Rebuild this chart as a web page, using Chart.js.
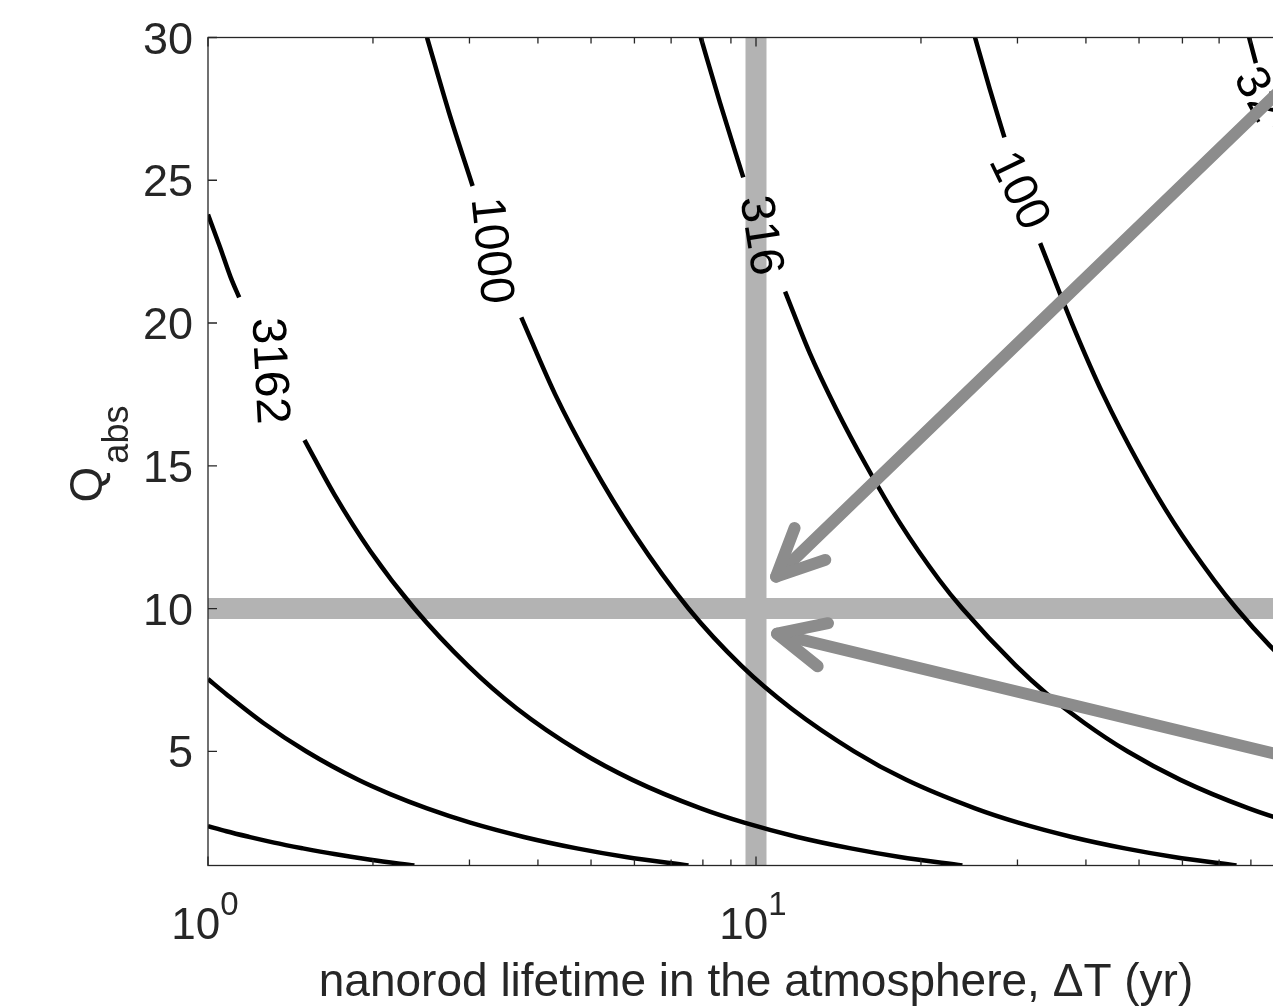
<!DOCTYPE html>
<html>
<head>
<meta charset="utf-8">
<script src="https://cdn.jsdelivr.net/npm/chart.js@4.4.1/dist/chart.umd.min.js"></script>
<style>
  html, body { margin: 0; padding: 0; overflow: hidden; background: #fff; }
  canvas { display: block; }
</style>
</head>
<body>
<canvas id="contour" width="1320" height="1007"></canvas>
<script>
// axis ticks
const xTickValues = [1, 2, 3, 4, 5, 6, 7, 8, 9, 10, 20, 30, 40, 50, 60, 70, 80, 90, 100] ;
const xLabelValues = [1, 10] ;
const yTickValues = [5, 10, 15, 20, 25, 30] ;

// contour lines: lifetime dT (yr) and Q_abs
// a null Q is where the line is broken for its label
const c31623T = [1, 1.08, 1.19, 1.32, 1.49, 1.70, 1.98, 2.38] ;
const c31623Q = [2.38, 2.2, 2.0, 1.8, 1.6, 1.4, 1.2, 1.0] ;

const c10000T = [1, 1.08, 1.26, 1.51, 1.88, 2.15, 2.51, 3.01, 3.77, 4.71, 5.79, 7.53] ;
const c10000Q = [7.53, 7, 6, 5, 4, 3.5, 3, 2.5, 2, 1.6, 1.3, 1] ;

const c3162T = [1, 1.05, 1.10, 1.14, 1.30, 1.50, 1.70, 1.98, 2.38, 2.98, 3.66, 4.76, 5.95, 7.93, 9.52, 11.9, 14.9, 18.3, 23.8] ;
const c3162Q = [23.8, 22.7, 21.6, 20.9, null, 15.9, 14, 12, 10, 8, 6.5, 5, 4, 3, 2.5, 2, 1.6, 1.3, 1] ;

const c1000T = [2.51, 2.75, 3.04, 3.30, 3.73, 4.3, 5.0, 6.0, 7.53, 9.4, 11.6, 15.1, 18.8, 25.1, 30.1, 37.7, 47.1, 57.9, 75.3] ;
const c1000Q = [30, 27.4, 24.8, null, 20.2, 17.5, 15.1, 12.6, 10, 8, 6.5, 5, 4, 3, 2.5, 2, 1.6, 1.3, 1] ;

const c316T = [7.93, 8.6, 9.48, 10.2, 11.3, 12.5, 14.0, 15.9, 18.3, 21.6, 23.8, 29.8, 34.0, 39.7, 47.6, 59.5, 79.3, 95.2, 119] ;
const c316Q = [30, 27.7, 25.1, null, 21.1, 19, 17, 15, 13, 11, 10, 8, 7, 6, 5, 4, 3, 2.5, 2] ;

const c100T = [25.1, 26.7, 28.4, 30.3, 33.0, 37.7, 43.0, 50.2, 57.9, 68.5, 75.3, 86.6, 100, 110] ;
const c100Q = [30, 28.2, 26.5, null, 22.8, 20, 17.5, 15, 13, 11, 10, 8.7, 7.53, 6.85] ;

const c32T = [79.4, 81.7, 84, 88.5, 100, 110] ;
const c32Q = [30, 29.1, null, 26.9, 23.8, 21.6] ;

// inline contour labels (text and where it sits on the line)
const labelText = ['3162', '1000', '316', '100', '32'] ;
const labelT = [1.30, 3.30, 10.24, 30.3, 82.8] ;
const labelQ = [18.33, 22.54, 23.07, 24.65, 28.02] ;

// grey guide lines at dT = 10 yr and Q_abs = 10
const guideT = 10 ;
const guideQ = 10 ;

// grey arrows pointing at the crossing
const arrowTipT = [10.75, 10.75] ;
const arrowTipQ = [11.02, 9.15] ;
const arrowTailT = [100, 100] ;
const arrowTailQ = [28.96, 4.67] ;

const FONT = "'Liberation Sans', Arial, Helvetica, sans-serif" ;
const axisColor = '#262626' ;
const guideColor = '#b3b3b3' ;
const arrowColor = '#8c8c8c' ;
const labelAngle = [87, 84, 81, 64, 62] ; // degrees, as matlab placed them

function toPoints(T, Q) {
    return T.map((t, i) => ({ x: t, y: Q[i] })) ;
}

const curves = [
    [c31623T, c31623Q], [c10000T, c10000Q], [c3162T, c3162Q],
    [c1000T, c1000Q], [c316T, c316Q], [c100T, c100Q], [c32T, c32Q]
] ;

const contourSets = curves.map(([T, Q]) => ({
    data: toPoints(T, Q),
    borderColor: '#000',
    borderWidth: 4.5,
    pointRadius: 0,
    cubicInterpolationMode: 'monotone',
    spanGaps: false,
    clip: 0,
    order: 1
})) ;

const guideSets = [{
    data: [{ x: 1, y: guideQ }, { x: 100, y: guideQ }],
    borderColor: guideColor, borderWidth: 21, borderCapStyle: 'butt', pointRadius: 0, order: 2
}, {
    data: [{ x: guideT, y: 1 }, { x: guideT, y: 30 }],
    borderColor: guideColor, borderWidth: 21, borderCapStyle: 'butt', pointRadius: 0, order: 2
}] ;

const matlabAxes = {
    id: 'matlabAxes',
    afterDatasetsDraw(chart) {
        const { ctx, scales: { x, y } } = chart ;

        // contour labels
        ctx.save() ;
        ctx.fillStyle = '#000' ;
        ctx.font = `48px ${FONT}` ;
        ctx.textAlign = 'center' ;
        ctx.textBaseline = 'middle' ;
        labelText.forEach((txt, i) => {
            ctx.save() ;
            ctx.translate(x.getPixelForValue(labelT[i]), y.getPixelForValue(labelQ[i])) ;
            ctx.rotate(labelAngle[i] * Math.PI / 180) ;
            ctx.fillText(txt, 0, 2) ;
            ctx.restore() ;
        }) ;
        ctx.restore() ;

        // arrows
        ctx.save() ;
        ctx.strokeStyle = arrowColor ;
        ctx.lineWidth = 12 ;
        ctx.lineCap = 'round' ;
        ctx.lineJoin = 'round' ;
        arrowTipT.forEach((_, i) => {
            const tx = x.getPixelForValue(arrowTipT[i]), ty = y.getPixelForValue(arrowTipQ[i]) ;
            const sx = x.getPixelForValue(arrowTailT[i]), sy = y.getPixelForValue(arrowTailQ[i]) ;
            const ang = Math.atan2(sy - ty, sx - tx) ;
            const hx = tx + 4 * Math.cos(ang), hy = ty + 4 * Math.sin(ang) ;
            ctx.beginPath() ;
            ctx.moveTo(sx, sy) ;
            ctx.lineTo(hx, hy) ;
            ctx.stroke() ;
            ctx.beginPath() ;
            ctx.moveTo(hx + 52 * Math.cos(ang - 0.44), hy + 52 * Math.sin(ang - 0.44)) ;
            ctx.lineTo(hx, hy) ;
            ctx.lineTo(hx + 52 * Math.cos(ang + 0.44), hy + 52 * Math.sin(ang + 0.44)) ;
            ctx.stroke() ;
        }) ;
        ctx.restore() ;
    },
    afterDraw(chart) {
        const { ctx, chartArea: { left, right, top, bottom }, scales: { x, y } } = chart ;
        ctx.save() ;
        ctx.strokeStyle = axisColor ;
        ctx.fillStyle = axisColor ;
        ctx.lineWidth = 1.3 ;
        ctx.strokeRect(left, top, right - left, bottom - top) ;

        // inward ticks, mirrored on the opposite side
        ctx.beginPath() ;
        x.ticks.forEach(t => {
            const px = x.getPixelForValue(t.value) ;
            const len = [1, 10, 100].includes(t.value) ? 9 : 6 ;
            ctx.moveTo(px, bottom) ; ctx.lineTo(px, bottom - len) ;
            ctx.moveTo(px, top) ; ctx.lineTo(px, top + len) ;
        }) ;
        y.ticks.forEach(t => {
            const py = y.getPixelForValue(t.value) ;
            ctx.moveTo(left, py) ; ctx.lineTo(left + 9, py) ;
            ctx.moveTo(right, py) ; ctx.lineTo(right - 9, py) ;
        }) ;
        ctx.stroke() ;

        // y tick labels
        ctx.font = `45px ${FONT}` ;
        ctx.textAlign = 'right' ;
        ctx.textBaseline = 'alphabetic' ;
        y.ticks.forEach(t => {
            ctx.fillText(String(t.value), left - 15, y.getPixelForValue(t.value) + 16) ;
        }) ;

        // x tick labels 10^n
        ctx.textAlign = 'left' ;
        xLabelValues.forEach(v => {
            const px = x.getPixelForValue(v) ;
            const exp = String(Math.round(Math.log10(v))) ;
            ctx.font = `44px ${FONT}` ;
            const wb = ctx.measureText('10').width ;
            ctx.font = `33px ${FONT}` ;
            const we = ctx.measureText(exp).width ;
            const x0 = px - (wb + we) / 2 - 3 ;
            ctx.font = `44px ${FONT}` ;
            ctx.fillText('10', x0, bottom + 73) ;
            ctx.font = `33px ${FONT}` ;
            ctx.fillText(exp, x0 + wb, bottom + 49) ;
        }) ;

        // x axis title
        ctx.font = `46px ${FONT}` ;
        ctx.textAlign = 'center' ;
        ctx.fillText('nanorod lifetime in the atmosphere, \u0394T (yr)', (left + right) / 2, bottom + 130) ;

        // y axis title Q_abs
        ctx.font = `46px ${FONT}` ;
        const wq = ctx.measureText('Q').width ;
        ctx.font = `36px ${FONT}` ;
        const ws = ctx.measureText('abs').width ;
        const mid = (top + bottom) / 2 ;
        ctx.translate(102, mid + (wq + ws) / 2 + 4) ;
        ctx.rotate(-Math.PI / 2) ;
        ctx.textAlign = 'left' ;
        ctx.font = `46px ${FONT}` ;
        ctx.fillText('Q', 0, 0) ;
        ctx.font = `36px ${FONT}` ;
        ctx.fillText('abs', wq + 3, 26) ;
        ctx.restore() ;
    }
} ;

const chart = new Chart(document.getElementById('contour'), {
    type: 'line',
    data: { datasets: [...contourSets, ...guideSets] },
    options: {
        responsive: false,
        animation: false,
        events: [],
        layout: { padding: { left: 208, top: 37.5, right: 16, bottom: 141.5 } },
        plugins: {
            legend: { display: false },
            tooltip: { enabled: false }
        },
        scales: {
            x: {
                type: 'logarithmic',
                min: 1,
                max: 100,
                afterBuildTicks: s => { s.ticks = xTickValues.map(v => ({ value: v })) ; },
                ticks: { display: false },
                grid: { display: false, drawTicks: false },
                border: { display: false }
            },
            y: {
                type: 'linear',
                min: 1,
                max: 30,
                afterBuildTicks: s => { s.ticks = yTickValues.map(v => ({ value: v })) ; },
                ticks: { display: false },
                grid: { display: false, drawTicks: false },
                border: { display: false }
            }
        }
    },
    plugins: [matlabAxes]
});
</script>
</body>
</html>
